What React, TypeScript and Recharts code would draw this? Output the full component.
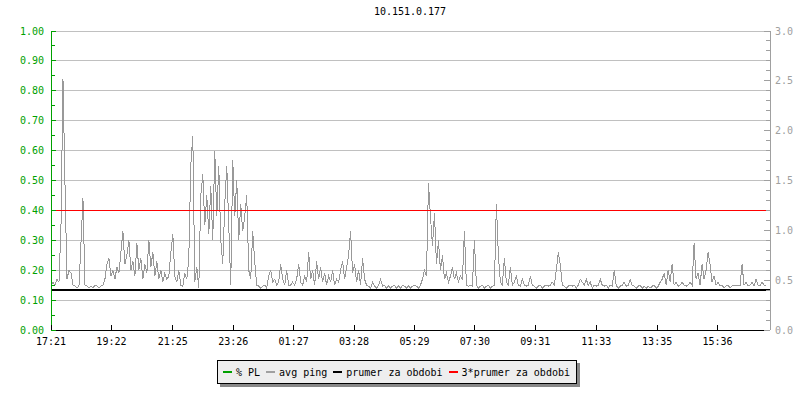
import React from 'react';
import { LineChart, Line, XAxis, YAxis, CartesianGrid, ReferenceLine } from 'recharts';

// avg ping in ms, one sample every 4 minutes starting 17:21
const pingMs: number[] = [
  0.45,0.48,0.45,0.51,0.48,1.05,2.52,1.47,0.51,0.60,
  0.57,0.45,0.44,0.42,0.44,0.87,1.32,0.45,0.44,0.42,
  0.44,0.42,0.45,0.44,0.42,0.44,0.45,0.51,0.66,0.72,
  0.54,0.60,0.51,0.63,0.57,0.78,0.99,0.66,0.75,0.90,
  0.60,0.69,0.54,0.87,0.60,0.72,0.51,0.66,0.57,0.90,
  0.63,0.78,0.54,0.69,0.51,0.60,0.48,0.57,0.51,0.54,
  0.78,0.96,0.54,0.48,0.60,0.45,0.44,0.57,0.51,0.72,
  1.65,1.95,0.48,0.63,0.42,1.35,1.56,1.05,1.35,0.96,
  1.44,0.90,1.80,1.14,1.65,0.90,0.66,1.26,1.65,1.05,
  0.45,1.71,1.14,1.50,0.90,1.26,0.99,1.14,1.35,0.60,
  0.51,0.99,0.69,0.45,0.44,0.42,0.44,0.45,0.42,0.54,
  0.60,0.48,0.51,0.45,0.48,0.66,0.51,0.45,0.60,0.45,
  0.45,0.48,0.45,0.51,0.66,0.48,0.45,0.54,0.48,0.78,
  0.51,0.60,0.45,0.69,0.51,0.63,0.48,0.57,0.45,0.54,
  0.48,0.60,0.45,0.51,0.48,0.60,0.69,0.51,0.63,0.75,
  0.99,0.57,0.66,0.48,0.60,0.45,0.72,0.51,0.45,0.44,
  0.42,0.48,0.44,0.42,0.45,0.51,0.44,0.45,0.42,0.44,
  0.42,0.44,0.45,0.42,0.44,0.42,0.45,0.44,0.42,0.44,
  0.42,0.44,0.45,0.44,0.42,0.45,0.51,0.60,0.54,1.47,
  1.14,0.84,1.17,0.66,0.90,0.60,0.75,0.51,0.57,0.48,
  0.54,0.63,0.51,0.57,0.48,0.54,0.51,0.99,0.45,0.44,
  0.45,0.44,0.90,0.45,0.42,0.44,0.45,0.42,0.44,0.45,
  0.42,0.44,0.45,1.26,0.75,0.48,0.45,0.72,0.48,0.45,
  0.63,0.45,0.48,0.54,0.45,0.44,0.51,0.45,0.44,0.45,
  0.54,0.45,0.44,0.42,0.44,0.45,0.42,0.44,0.45,0.44,
  0.45,0.48,0.45,0.60,0.78,0.66,0.45,0.44,0.42,0.44,
  0.45,0.44,0.45,0.42,0.45,0.51,0.48,0.45,0.51,0.45,
  0.48,0.42,0.45,0.44,0.45,0.51,0.45,0.44,0.45,0.42,
  0.45,0.44,0.60,0.45,0.42,0.44,0.45,0.48,0.44,0.45,
  0.51,0.45,0.44,0.42,0.44,0.45,0.42,0.44,0.42,0.44,
  0.42,0.44,0.45,0.42,0.44,0.48,0.51,0.57,0.45,0.60,
  0.48,0.66,0.45,0.48,0.44,0.45,0.48,0.45,0.44,0.45,
  0.48,0.45,0.87,0.51,0.57,0.45,0.66,0.51,0.60,0.78,
  0.66,0.48,0.54,0.45,0.48,0.44,0.45,0.42,0.44,0.45,
  0.42,0.44,0.45,0.44,0.45,0.44,0.66,0.45,0.48,0.44,
  0.45,0.48,0.44,0.51,0.45,0.44,0.48,0.45,0.44,
];
const sampleStepMin = 4;
const periodMin = 1440;

const avgPing = 0.40;
const tripleAvgPing = 1.20;

const tickMinutes = [0, 121, 244, 365, 486, 607, 728, 849, 970, 1092, 1214, 1335];
const tickLabels = ['17:21', '19:22', '21:25', '23:26', '01:27', '03:28', '05:29', '07:30', '09:31', '11:33', '13:35', '15:36'];

const leftTicks = [0, 0.05, 0.1, 0.15, 0.2, 0.25, 0.3, 0.35, 0.4, 0.45, 0.5, 0.55, 0.6, 0.65, 0.7, 0.75, 0.8, 0.85, 0.9, 0.95, 1.0];
const gridValues = [0.1, 0.2, 0.3, 0.4, 0.5, 0.6, 0.7, 0.8, 0.9, 1.0];
const rightTicks = [0, 0.1, 0.2, 0.3, 0.4, 0.5, 0.6, 0.7, 0.8, 0.9, 1.0, 1.1, 1.2, 1.3, 1.4, 1.5, 1.6, 1.7, 1.8, 1.9, 2.0, 2.1, 2.2, 2.3, 2.4, 2.5, 2.6, 2.7, 2.8, 2.9, 3.0];

const legendItems = [
  { label: '% PL', color: '#00a000' },
  { label: 'avg ping', color: '#a0a0a0' },
  { label: 'prumer za obdobi', color: '#000000' },
  { label: '3*prumer za obdobi', color: '#ff0000' },
];

const data = pingMs.map((v, i) => ({ t: i * sampleStepMin, ping: v }));

const FONT = '"DejaVu Sans Mono", monospace';
const GREEN = '#00a000';
const GRAY = '#a0a0a0';
const PLOT_LEFT = 51;
const PLOT_RIGHT = 770;
const PLOT_BOTTOM = 330;

const LeftTick = (props: any) => {
  const { y, payload } = props;
  const v = payload.value as number;
  const major = Math.abs(v * 10 - Math.round(v * 10)) < 1e-6;
  return (
    <g>
      <line x1={PLOT_LEFT} x2={PLOT_LEFT + (major ? 5 : 4)} y1={y} y2={y} stroke={GREEN} />
      {major && (
        <text x={PLOT_LEFT - 7} y={y} dy={3.5} textAnchor="end" fill={GREEN} fontSize={10} fontFamily={FONT}>
          {v.toFixed(2)}
        </text>
      )}
    </g>
  );
};

const RightTick = (props: any) => {
  const { y, payload } = props;
  const v = payload.value as number;
  const major = Math.abs(v * 2 - Math.round(v * 2)) < 1e-6;
  return (
    <g>
      <line x1={PLOT_RIGHT} x2={PLOT_RIGHT - (major ? 6 : 4)} y1={y} y2={y} stroke={GRAY} />
      {major && (
        <text x={PLOT_RIGHT + 5} y={y} dy={3.5} textAnchor="start" fill={GRAY} fontSize={10} fontFamily={FONT}>
          {v.toFixed(1)}
        </text>
      )}
    </g>
  );
};

const BottomTick = (props: any) => {
  const { x, payload } = props;
  const idx = tickMinutes.indexOf(payload.value);
  return (
    <g>
      <line x1={x} x2={x} y1={PLOT_BOTTOM - 5} y2={PLOT_BOTTOM} stroke="#000" />
      <text x={x} y={PLOT_BOTTOM + 15} textAnchor="middle" fill="#000" fontSize={10} fontFamily={FONT}>
        {idx >= 0 ? tickLabels[idx] : ''}
      </text>
    </g>
  );
};

export default function App() {
  return (
    <div className="chartwrap" style={{ position: 'absolute', left: 0, top: 0, width: 800, height: 400, background: '#fff' }}>
      <style>{`.chartwrap svg { shape-rendering: crispEdges; }`}</style>
      <div
        style={{
          position: 'absolute', left: 310, top: 6, width: 200, textAlign: 'center',
          fontFamily: FONT, fontSize: 10, lineHeight: '12px', color: '#000',
        }}
      >
        10.151.0.177
      </div>
      <LineChart width={800} height={400} data={data} margin={{ top: 31, right: 0, bottom: 40, left: 0 }}>
        <CartesianGrid yAxisId="left" vertical={false} horizontalValues={gridValues} stroke="#c0c0c0" strokeDasharray="" />
        <XAxis
          dataKey="t"
          type="number"
          domain={[0, periodMin]}
          allowDataOverflow
          ticks={tickMinutes}
          interval={0}
          height={30}
          axisLine={{ stroke: '#000' }}
          tickLine={false}
          tick={<BottomTick />}
        />
        <YAxis
          yAxisId="left"
          type="number"
          domain={[0, 1]}
          allowDataOverflow
          ticks={leftTicks}
          interval={0}
          width={51}
          axisLine={{ stroke: GREEN }}
          tickLine={false}
          tick={<LeftTick />}
        />
        <YAxis
          yAxisId="right"
          type="number"
          orientation="right"
          domain={[0, 3]}
          allowDataOverflow
          ticks={rightTicks}
          interval={0}
          width={30}
          axisLine={{ stroke: GRAY }}
          tickLine={false}
          tick={<RightTick />}
        />
        <Line
          yAxisId="right"
          type="linear"
          dataKey="ping"
          stroke="#999999"
          strokeWidth={1}
          dot={false}
          activeDot={false}
          isAnimationActive={false}
        />
        <ReferenceLine yAxisId="right" y={avgPing} stroke="#000" strokeWidth={2} />
        <ReferenceLine yAxisId="right" y={tripleAvgPing} stroke="#ff0000" strokeWidth={1} />
      </LineChart>
      <div
        style={{
          position: 'absolute', left: 217, top: 360, height: 22, padding: '0 6px 0 5px',
          display: 'flex', alignItems: 'center', gap: 6,
          background: '#eeeeee', border: '1px solid #000', boxShadow: '3px 3px 0 #888',
          fontFamily: FONT, fontSize: 10, color: '#000', whiteSpace: 'pre',
        }}
      >
        {legendItems.map((it) => (
          <div key={it.label} style={{ display: 'flex', alignItems: 'center' }}>
            <span style={{ display: 'inline-block', width: 9, height: 2, background: it.color, marginRight: 4 }} />
            <span>{it.label}</span>
          </div>
        ))}
      </div>
    </div>
  );
}
